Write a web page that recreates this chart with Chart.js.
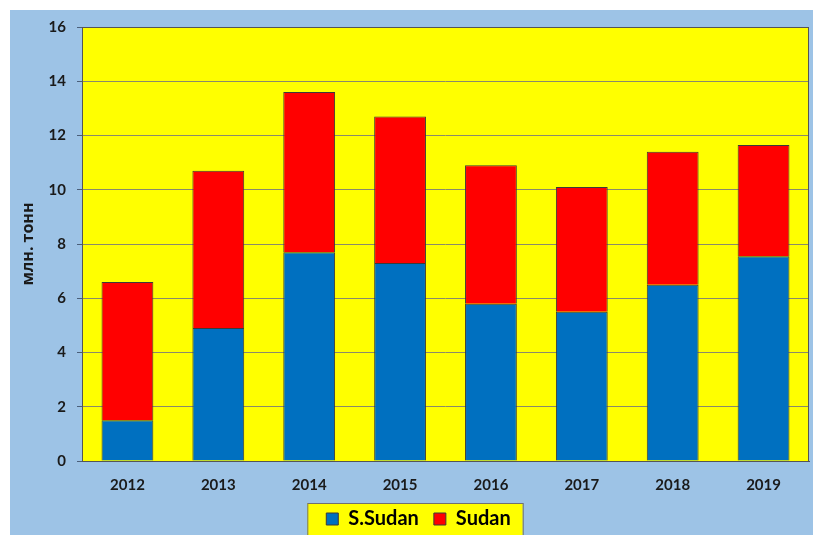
<!DOCTYPE html>
<html>
<head>
<meta charset="utf-8">
<script src="https://cdn.jsdelivr.net/npm/chart.js@4"></script>
<style>
  body { margin: 0; background: #fff; }
  #wrap { position: absolute; left: 10px; top: 10px; width: 803px; height: 525px; background: #9dc3e6; overflow: hidden; }
</style>
</head>
<body>
<div id="wrap"><canvas id="grafico" width="803" height="529"></canvas></div>
<script>
const ctx = document.getElementById('grafico');

// годы и объёмы (млн. тонн)
const anos = ['2012', '2013', '2014', '2015', '2016', '2017', '2018', '2019'];
const sSudan = [1.5, 4.9, 7.7, 7.3, 5.8, 5.5, 6.5, 7.55];
const sudan = [5.1, 5.8, 5.9, 5.4, 5.1, 4.6, 4.9, 4.1];
const tituloY = 'млн. тонн';

const fonte = 'Lato, "Open Sans", sans-serif';

// fundo amarelo da area do grafico e caixa da legenda
const fundo = {
  id: 'fundo',
  afterLayout(chart) {
    // legenda um pouco para a direita, como no original
    const lg = chart.legend;
    lg.left += 9;
    lg.right += 9;
    if (lg.adjustHitBoxes) lg.adjustHitBoxes();
  },
  beforeDraw(chart) {
    const c = chart.ctx;
    const a = chart.chartArea;
    c.save();
    c.fillStyle = '#ffff00';
    c.fillRect(a.left, a.top, a.right - a.left, a.bottom - a.top);
    // caixa da legenda
    const boxes = chart.legend.legendHitBoxes;
    if (boxes && boxes.length) {
      const ult = boxes[boxes.length - 1];
      const l = boxes[0].left - 19;
      const r = ult.left + ult.width + 12;
      const t = 493;
      c.fillStyle = '#ffff00';
      c.fillRect(l, t, r - l, 60);
      c.strokeStyle = '#707070';
      c.lineWidth = 1;
      c.strokeRect(l + 0.5, t + 0.5, r - l, 60);
    }
    c.restore();
  },
  afterDatasetsDraw(chart) {
    const c = chart.ctx;
    const a = chart.chartArea;
    c.save();
    c.strokeStyle = '#555555';
    c.lineWidth = 1;
    c.strokeRect(a.left + 0.5, a.top + 0.5, a.right - a.left - 1, a.bottom - a.top);
    c.restore();
  }
};

new Chart(ctx, {
  type: 'bar',
  data: {
    labels: anos,
    datasets: [{
      label: 'S.Sudan',
      data: sSudan,
      backgroundColor: '#0070c0',
      borderColor: '#3a3a3a',
      borderWidth: 1
    }, {
      label: 'Sudan',
      data: sudan,
      backgroundColor: '#ff0000',
      borderColor: '#3a3a3a',
      borderWidth: 1
    }]
  },
  options: {
    responsive: false,
    animation: false,
    devicePixelRatio: 1,
    layout: { padding: { left: 0, top: 17, right: 4, bottom: 0 } },
    datasets: { bar: { categoryPercentage: 1, barPercentage: 0.57 } },
    plugins: {
      legend: {
        position: 'bottom',
        labels: {
          color: '#000',
          font: { family: fonte, size: 20, weight: 'bold' },
          boxWidth: 12,
          boxHeight: 12,
          padding: 15
        }
      },
      tooltip: { enabled: false }
    },
    scales: {
      x: {
        stacked: true,
        grid: { display: false, drawTicks: false },
        border: { display: true, color: '#555555' },
        ticks: { color: '#1a1a1a', padding: 15, font: { family: fonte, size: 15, weight: 'bold' } },
        afterFit(scale) { scale.height = 33; }
      },
      y: {
        stacked: true,
        min: 0,
        max: 16,
        ticks: { stepSize: 2, color: '#1a1a1a', padding: 11, font: { family: fonte, size: 15, weight: 'bold' } },
        grid: { color: '#8a8a6a', tickColor: '#4a5f7a', tickLength: 5 },
        border: { display: false },
        title: {
          display: true,
          text: tituloY,
          color: '#1a1a1a',
          font: { family: '"Open Sans", sans-serif', size: 16, weight: 'bold' },
          padding: { top: 9, bottom: 0 }
        },
        afterFit(scale) {
          scale.width = 72;
          scale.paddingTop = 0;
          scale.paddingBottom = 0;
        }
      }
    }
  },
  plugins: [fundo]
});
</script>
</body>
</html>
